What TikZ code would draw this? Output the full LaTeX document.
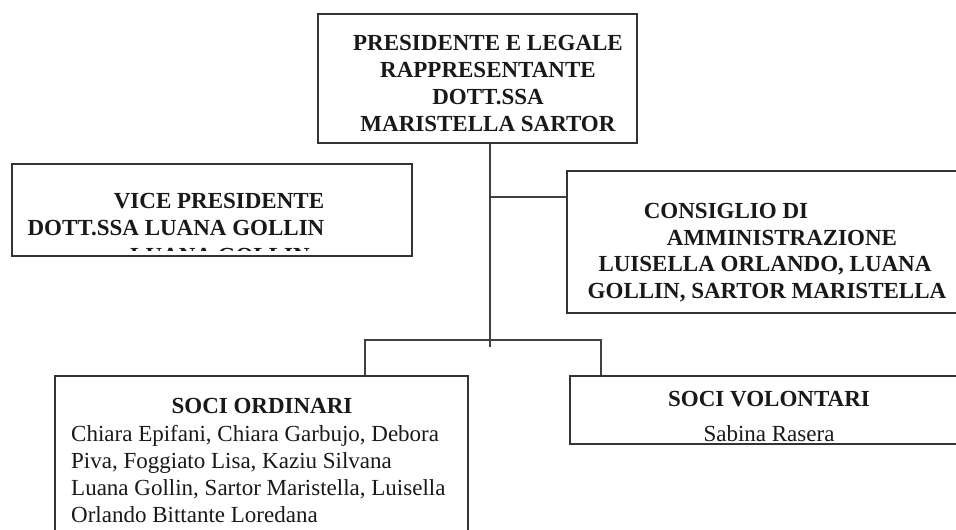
\documentclass[tikz,border=0pt]{standalone}
\usepackage{fontspec}
\setmainfont{Liberation Serif}
\begin{document}
\begin{tikzpicture}[x=1pt,y=-1pt,
  box/.style={draw=black!80,line width=1.4pt,inner sep=0pt,fill=none},
  conn/.style={draw=black!75,line width=1.3pt},
  hd/.style={font=\fontsize{23}{27}\selectfont\bfseries,inner sep=0pt,anchor=base,text=black!90},
  tx/.style={font=\fontsize{23}{27}\selectfont,inner sep=0pt,anchor=base west,text=black!90}]
\clip (0,0) rectangle (956,530);
\fill[white] (0,0) rectangle (956,530);
% boxes
\node[box,minimum width=319pt,minimum height=129pt] (pres) at (477.5,78.5) {};
\node[box,minimum width=400pt,minimum height=92pt] (vice) at (212,210) {};
\node[box,minimum width=403pt,minimum height=142pt] (cons) at (768.5,242) {};
\node[box,minimum width=413pt,minimum height=184pt] (ord) at (261.5,468) {};
\node[box,minimum width=400pt,minimum height=68pt] (vol) at (770,410) {};
% president
\node[hd] (p1) at (488,50) {PRESIDENTE E LEGALE};
\node[hd] (p2) at (488,77) {RAPPRESENTANTE};
\node[hd] (p3) at (488,104) {DOTT.SSA};
\node[hd] (p4) at (488,131) {MARISTELLA SARTOR};
% vice
\node[hd] (v1) at (219,208) {VICE PRESIDENTE};
\node[hd] (v2) at (176,235) {DOTT.SSA LUANA GOLLIN};
\begin{scope}
\clip (14,166) rectangle (410,250);
\node[hd] (v3) at (220,263) {LUANA GOLLIN};
\end{scope}
% consiglio
\node[hd] (c1) at (726,218) {CONSIGLIO DI};
\node[hd] (c2) at (782,245) {AMMINISTRAZIONE};
\node[hd] (c3) at (765,271) {LUISELLA ORLANDO, LUANA};
\node[hd] (c4) at (767,298) {GOLLIN, SARTOR MARISTELLA};
% soci ordinari
\node[hd] (o1) at (262,413) {SOCI ORDINARI};
\node[tx] (o2) at (71,441) {Chiara Epifani, Chiara Garbujo, Debora};
\node[tx] (o3) at (71,468) {Piva, Foggiato Lisa, Kaziu Silvana};
\node[tx] (o4) at (71,495) {Luana Gollin, Sartor Maristella, Luisella};
\node[tx] (o5) at (71,522) {Orlando Bittante Loredana};
% soci volontari
\node[hd] (w1) at (769,406) {SOCI VOLONTARI};
\node[hd,font=\fontsize{23}{27}\selectfont] (w2) at (769,441) {Sabina Rasera};
% connectors
\coordinate (j) at (490,340);
\coordinate (jend) at (490,347);
\coordinate (cj) at (490,197);
\coordinate (bl) at (365,340);
\coordinate (br) at (601,340);
\draw[conn] (pres.south -| j) -- (jend);
\draw[conn] (cj) -- (cj -| cons.west);
\draw[conn] (bl |- ord.north) -- (bl) -- (br) -- (br |- vol.north);
\end{tikzpicture}
\end{document}
